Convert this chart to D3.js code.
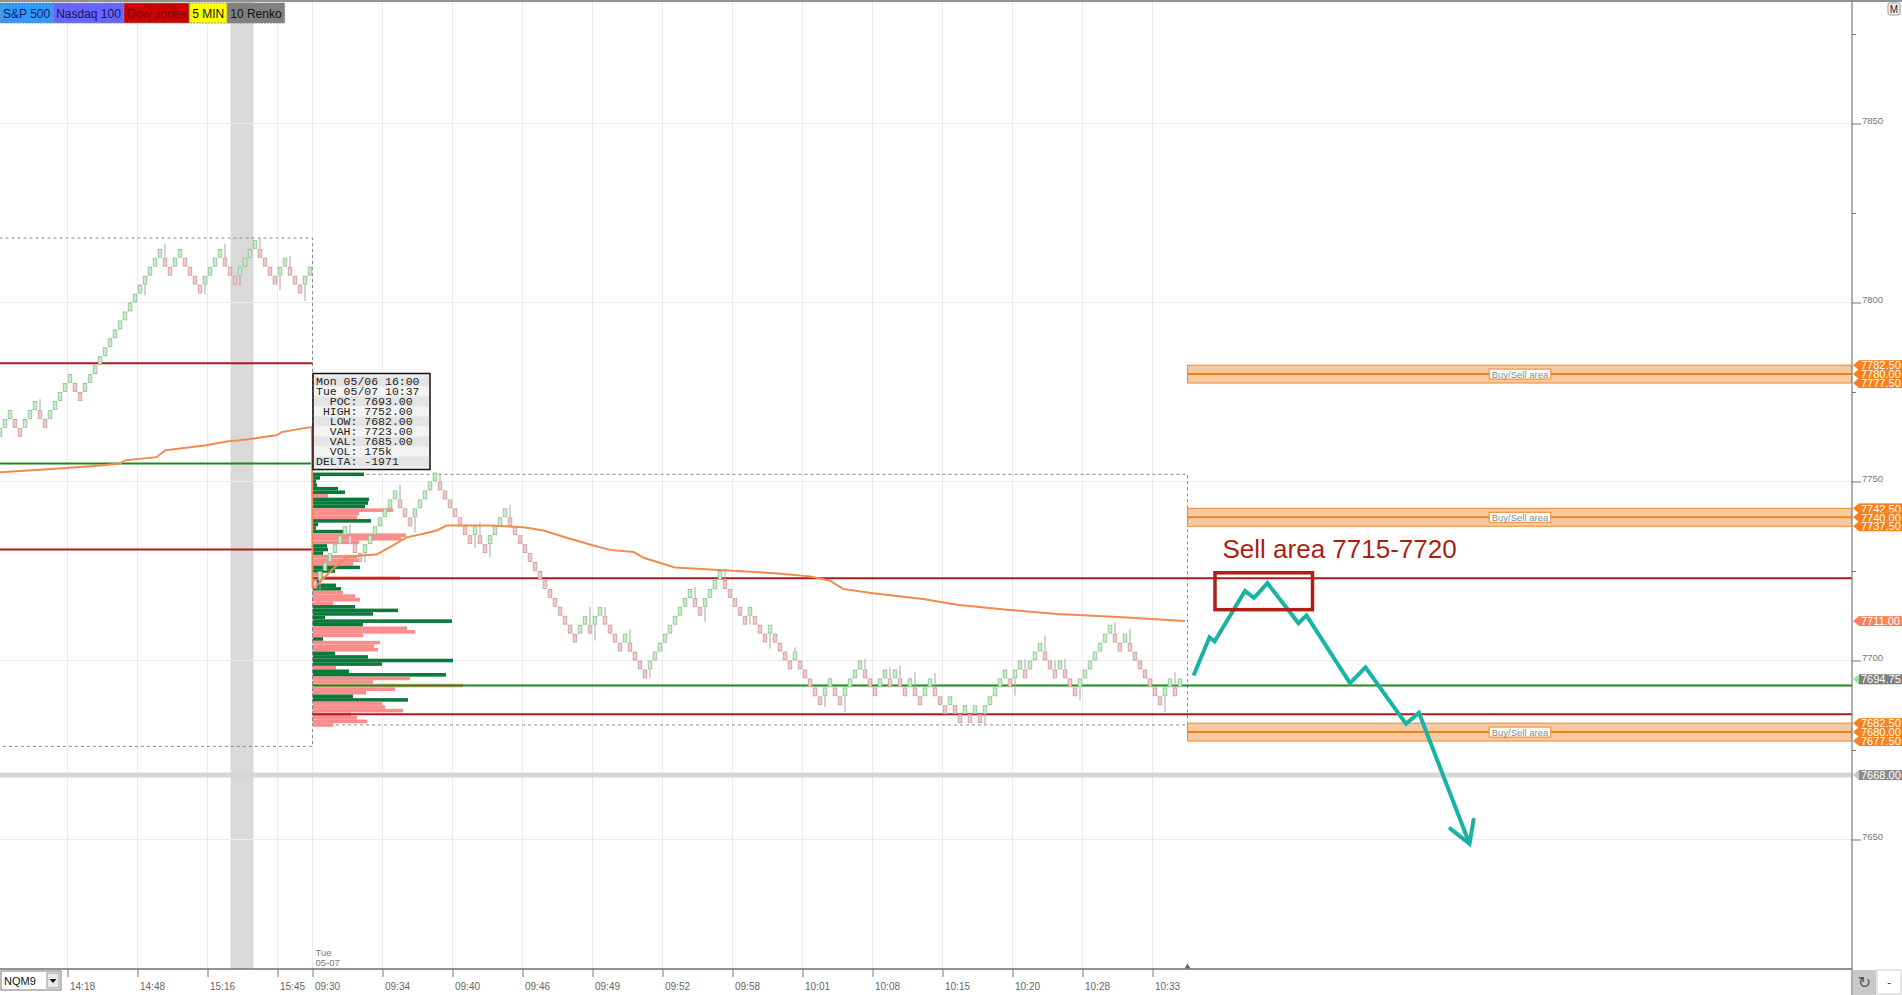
<!DOCTYPE html>
<html>
<head>
<meta charset="utf-8">
<title>NQM9 10 Renko</title>
<script src="https://cdn.jsdelivr.net/npm/d3@7/dist/d3.min.js"></script>
<style>
body{margin:0;background:#fff;overflow:hidden;}
svg{display:block;font-family:"Liberation Sans",Arial,sans-serif;}
</style>
</head>
<body>
<div class="container"></div>
<script>
// renko closes, one 10-tick (2.5 pt) brick per bar; bar 0 is the left edge of the view
var brickClose = [
	7765,7767.5,7770,7765,7762.5,7767.5,7770,7772.5,7767.5,7765,
	7770,7772.5,7775,7777.5,7780,7775,7772.5,7777.5,7780,7782.5,
	7785,7787.5,7790,7792.5,7795,7797.5,7800,7802.5,7805,7807.5,
	7810,7812.5,7815,7810,7807.5,7812.5,7815,7810,7807.5,7805,
	7802.5,7807.5,7810,7812.5,7815,7810,7807.5,7805,7810,7812.5,
	7815,7817.5,7812.5,7810,7807.5,7805,7810,7812.5,7807.5,7805,
	7802.5,7807.5,7810,
	// Tue 05-07 session
	7720,7725,7727.5,7730,7732.5,7735,7737.5,7732.5,7730,7727.5,
	7732.5,7735,7737.5,7740,7742.5,7745,7747.5,7742.5,7740,7737.5,
	7742.5,7745,7747.5,7750,7752.5,7747.5,7745,7742.5,7740,7737.5,
	7735,7732.5,7737.5,7732.5,7730,7735,7737.5,7740,7742.5,7737.5,
	7735,7732.5,7730,7727.5,7725,7722.5,7720,7717.5,7715,7712.5,
	7710,7707.5,7705,7710,7712.5,7707.5,7712.5,7715,7710,7707.5,
	7705,7702.5,7707.5,7702.5,7700,7697.5,7695,7700,7702.5,7705,
	7707.5,7710,7712.5,7715,7717.5,7720,7715,7712.5,7717.5,7720,
	7722.5,7725,7720,7717.5,7715,7712.5,7710,7715,7710,7707.5,
	7705,7710,7705,7702.5,7700,7697.5,7702.5,7697.5,7695,7692.5,
	7690,7687.5,7692.5,7695,7690,7687.5,7692.5,7695,7697.5,7700,
	7695,7692.5,7690,7695,7697.5,7692.5,7697.5,7692.5,7690,7695,
	7690,7687.5,7692.5,7695,7690,7687.5,7685,7690,7685,7682.5,
	7687.5,7682.5,7687.5,7682.5,7687.5,7690,7692.5,7695,7697.5,7692.5,
	7697.5,7700,7695,7700,7702.5,7705,7700,7697.5,7695,7700,
	7695,7692.5,7690,7695,7697.5,7700,7702.5,7705,7707.5,7710,
	7705,7702.5,7707.5,7702.5,7700,7697.5,7695,7692.5,7690,7687.5,
	7692.5,7695,7690,7695
];
var BRICK = 2.5;

// wicks: bar index and the price the wick reaches
var wickIdx = [8,29,33,41,45,48,52,56,58,61,64,70,73,80,83,88,95,96,98,102,118,119,121,126,130,139,141,145,150,154,159,165,169,173,178,180,183,187,197,203,205,209,211,213,216,223,226,233,235];
var wickPrice = [7773,7802,7816.4,7802.2,7816.5,7804.7,7818,7803.5,7813,7800.4,7719,7738,7727.5,7749,7735.8,7752.4,7731.5,7738.6,7728.9,7743.5,7715,7705.6,7715,7708.8,7695.2,7720.5,7710.7,7725.5,7710,7703.3,7703.7,7687,7685.6,7700.5,7698.1,7698.6,7696.7,7696.5,7682,7690.2,7700.5,7707,7700,7700.5,7688.8,7710.7,7708.8,7685.6,7696.7];

var timeTickIdx = [14,28,42,56,63,77,91,105,119,133,147,161,175,189,203,217,231];
var timeTickLabel = ['14:18','14:48','15:16','15:45','09:30','09:34','09:40','09:46','09:49','09:52','09:58','10:01','10:08','10:15','10:20','10:28','10:33'];
var priceMajor = [7650,7700,7750,7800,7850];
var priceMinor = [7675,7725,7775,7825,7875];

// VWAP, previous session then current session (bar index, price)
var vwapIdx = [0,8,13.3,20,24,25,31.3,33,36,41.3,45.3,48,52.7,55.3,56.3,60,62.4,
	62.5,63,64.3,66.5,69.5,72,75.3,78,81.3,84.7,87.3,89.3,93.3,98,104.7,108.7,114,118.7,122,126.7,128.7,135,142,155,162,166,168.6,174.6,184.6,191.4,201.4,211.4,224.6,237];
var vwapPrice = [7752.6,7753.3,7753.8,7754.5,7755,7755.9,7756.8,7758.7,7759.2,7760.1,7761.2,7761.5,7762.4,7762.9,7763.8,7764.7,7765.2,
	7720.5,7720.5,7722.3,7725.5,7728.9,7729.3,7729.6,7731.7,7734.4,7735.4,7736.3,7737.7,7737.7,7737.7,7737.2,7736.3,7734,7732.1,7730.9,7730.3,7728.7,7726,7725.4,7724.4,7723.5,7722.3,7720,7718.8,7717.2,7715.6,7714.2,7713,7712.1,7711];

// session volume profile, one row per point; b = buyers dominant, s = sellers
var profilePrice = [7752,7751,7750,7749,7748,7747,7746,7745,7744,7743,7742,7741,7740,7739,7738,7737,7736,7735,7734,7733,
	7732,7731,7730,7729,7728,7727,7726,7725,7724,7723,7722,7721,7720,7719,7718,7717,7716,7715,7714,7713,
	7712,7711,7710,7709,7708,7707,7706,7705,7704,7703,7702,7701,7700,7699,7698,7697,7696,7695,7694,7693,
	7692,7691,7690,7689,7688,7687,7686,7685,7684,7683,7682];
var profileVol = [2040,280,120,160,1000,1280,600,2240,2200,2080,3200,1840,1760,2320,200,120,1200,3720,3520,1840,
	560,600,400,1760,1880,1600,1880,880,400,3480,240,920,1120,1200,1680,1880,800,1680,3400,2400,
	480,5560,2000,3760,4080,2000,400,2680,2440,2600,880,2200,5600,2760,920,1440,5320,3880,2400,6000,
	3280,2120,1600,3800,2760,2880,3600,1520,1760,2160,800];
var profileSide = ['b','b','b','b','b','b','s','b','b','b','s','s','s','b','b','b','b','s','s','s',
	'b','b','b','s','s','s','b','b','s','s','b','b','b','s','s','s','s','b','b','b',
	'b','b','b','s','s','s','b','s','s','s','b','b','b','b','s','b','b','s','s','s',
	's','s','b','b','s','s','s','s','s','s','s'];

var prevLevelPrice = [7783,7755,7731];
var prevLevelKind = ['va','poc','va'];
var sessLevelPrice = [7723,7693,7685];
var sessLevelKind = ['va','poc','va'];
var prevRange = [7676,7818];
var sessRange = [7682,7752];
var sessStartIdx = 63, sessEndIdx = 238;
var highlightIdx = [46.6,51.2];
var grayLevel = 7668;

var zoneLow = [7777.5,7737.5,7677.5];
var zoneMid = [7780,7740,7680];
var zoneHigh = [7782.5,7742.5,7682.5];

var projIdx = [238.7,241.9,242.9,249,250.8,253.5,259.7,261.3,270,273.1,281.2,283.8,293.9];
var projPrice = [7695.8,7706.5,7705.3,7719.4,7717.5,7721.6,7710.4,7712.6,7693.7,7698.1,7682.3,7685.4,7648.8];
var sellBoxIdx = [243,262.5];
var sellBoxPrice = [7714.2,7724.5];
var sellText = 'Sell area 7715-7720';

var infoLines = ['Mon 05/06 16:00','Tue 05/07 10:37','  POC: 7693.00',' HIGH: 7752.00','  LOW: 7682.00','  VAH: 7723.00','  VAL: 7685.00','  VOL: 175k','DELTA: -1971'];
var tabLabels = ['S&P 500','Nasdaq 100','Dow Jones','5 MIN','10 Renko'];
var tagPrice = [7782.5,7780,7777.5,7742.5,7740,7737.5,7711,7694.75,7682.5,7680,7677.5,7668];
var tagKind = ['zone','zone','zone','zone','zone','zone','vwap','last','zone','zone','zone','line'];

// ---- layout / styles ----
const WIDTH = 1902;
const HEIGHT = 995;
const PLOT_RIGHT = 1852;
const PLOT_TOP = 2;
const PLOT_BOTTOM = 969;

var tabFill = ['#3399ff','#6666ff','#cc0000','#ffff00','#808080'];
var tabText = ['#0d1f5c','#14145e','#7a0000','#111','#111'];
var tagFill = {zone:'#f5821f', vwap:'#f4845c', last:'#7d7d7d', line:'#8c8c8c'};
var tagArrow = {zone:'#f5821f', vwap:'#f4845c', last:'#9be39b', line:'#c4c4c4'};

var svg = d3.select('.container').append('svg')
	.attr('width',WIDTH)
	.attr('height',HEIGHT);

// xScale(i) = left edge of bar i
var xScale = d3.scaleLinear().domain([0,1]).range([-2.5,2.5]);
var cx = function(i){ return xScale(i + 0.5); };
var yScale = d3.scaleLinear().domain([7650,7850]).range([839.5,123.5]);
var volScale = d3.scaleLinear().domain([0,6000]).range([0,150]);

svg.append('rect').attr('width',WIDTH).attr('height',HEIGHT).attr('fill','#fff');

svg.append('defs').append('clipPath').attr('id','plotclip').append('rect')
	.attr('x',0).attr('y',PLOT_TOP).attr('width',PLOT_RIGHT).attr('height',PLOT_BOTTOM-PLOT_TOP);

var marker = svg.select('defs').append('marker')
	.attr('id','arrowhead')
	.attr('markerUnits','userSpaceOnUse')
	.attr('viewBox','-26 -16 30 32')
	.attr('markerWidth',30).attr('markerHeight',32)
	.attr('refX',0).attr('refY',0)
	.attr('orient','auto');
marker.append('path')
	.attr('d','M-21,-12.5L0,0L-21,12.5')
	.attr('fill','none').attr('stroke','#19b3a6').attr('stroke-width',4).attr('stroke-linecap','round');

var plot = svg.append('g').attr('clip-path','url(#plotclip)');

// highlighted column
plot.append('rect')
	.attr('x',xScale(highlightIdx[0]))
	.attr('y',PLOT_TOP)
	.attr('width',xScale(highlightIdx[1]) - xScale(highlightIdx[0]))
	.attr('height',PLOT_BOTTOM-PLOT_TOP)
	.attr('fill','#d9d9d9');

// grid
plot.selectAll('.hgrid').data(priceMajor).enter().append('line')
	.attr('x1',0).attr('x2',PLOT_RIGHT)
	.attr('y1',function(d){return yScale(d);}).attr('y2',function(d){return yScale(d);})
	.attr('stroke','#ececec');
plot.selectAll('.vgrid').data(timeTickIdx).enter().append('line')
	.attr('x1',function(d){return xScale(d);}).attr('x2',function(d){return xScale(d);})
	.attr('y1',PLOT_TOP).attr('y2',PLOT_BOTTOM)
	.attr('stroke','#ececec');

// session range boxes
var drawBox = function(i0,i1,range){
	plot.append('rect')
		.attr('x',xScale(i0)).attr('y',yScale(range[1]))
		.attr('width',xScale(i1)-xScale(i0))
		.attr('height',yScale(range[0])-yScale(range[1]))
		.attr('fill','none').attr('stroke','#8a8a8a').attr('stroke-dasharray','3,3');
};
drawBox(-2, sessStartIdx, prevRange);
drawBox(sessStartIdx, sessEndIdx, sessRange);

// buy/sell zones
var zones = plot.selectAll('.zone').data(zoneMid).enter().append('g');
zones.append('rect')
	.attr('x',xScale(sessEndIdx)).attr('width',PLOT_RIGHT - xScale(sessEndIdx))
	.attr('y',function(d,i){return yScale(zoneHigh[i]);})
	.attr('height',function(d,i){return yScale(zoneLow[i]) - yScale(zoneHigh[i]);})
	.attr('fill','#f7c9a1').attr('stroke','#f0882a').attr('stroke-width',1);
zones.append('line')
	.attr('x1',xScale(sessEndIdx)).attr('x2',PLOT_RIGHT)
	.attr('y1',function(d){return yScale(d);}).attr('y2',function(d){return yScale(d);})
	.attr('stroke','#f0821a').attr('stroke-width',2);
zones.each(function(d){
	var g = d3.select(this);
	var t = g.append('text').attr('x',cx(304)).attr('y',yScale(d)+3.5)
		.attr('text-anchor','middle').attr('font-size','9.5px').attr('fill','#8a8a8a')
		.text('Buy/Sell area');
	var w = t.node().getComputedTextLength() + 5;
	g.insert('rect','text:last-child')
		.attr('x',cx(304)-w/2).attr('y',yScale(d)-5).attr('width',w).attr('height',10)
		.attr('fill','#fff').attr('stroke','#f0882a').attr('stroke-width',1);
});

// grey reference level
plot.append('line')
	.attr('x1',0).attr('x2',PLOT_RIGHT)
	.attr('y1',yScale(grayLevel)).attr('y2',yScale(grayLevel))
	.attr('stroke','#d6d6d6').attr('stroke-width',5);

// volume profile
var rowH = yScale(7700) - yScale(7701);
plot.selectAll('.prof').data(profilePrice).enter().append('rect')
	.attr('x',xScale(sessStartIdx)+0.5)
	.attr('y',function(d){return yScale(d) - rowH/2;})
	.attr('width',function(d,i){return volScale(profileVol[i]);})
	.attr('height',rowH)
	.attr('fill',function(d,i){
		if(d === sessLevelPrice[1]) return '#f2a07c';
		return profileSide[i] === 'b' ? '#0a7a3c' : '#fa8c8c';
	});

// value area / poc lines
var levelColor = function(k){ return k === 'poc' ? '#1c8a1c' : '#b01a1a'; };
plot.selectAll('.prevlvl').data(prevLevelPrice).enter().append('line')
	.attr('x1',xScale(-2)).attr('x2',xScale(sessStartIdx))
	.attr('y1',function(d){return yScale(d);}).attr('y2',function(d){return yScale(d);})
	.attr('stroke',function(d,i){return levelColor(prevLevelKind[i]);}).attr('stroke-width',2);
plot.selectAll('.sesslvl').data(sessLevelPrice).enter().append('line')
	.attr('x1',xScale(sessStartIdx)).attr('x2',PLOT_RIGHT)
	.attr('y1',function(d){return yScale(d);}).attr('y2',function(d){return yScale(d);})
	.attr('stroke',function(d,i){return levelColor(sessLevelKind[i]);}).attr('stroke-width',2);

// renko bricks
var bricks = brickClose.map(function(c,i){
	var up = i === 0 ? true : c > brickClose[i-1];
	return {i:i, close:c, open: up ? c - BRICK : c + BRICK, up:up};
});
var brickById = {};
bricks.forEach(function(b){ brickById[b.i] = b; });

plot.selectAll('.wick').data(wickIdx).enter().append('line')
	.attr('x1',function(d){return cx(d);}).attr('x2',function(d){return cx(d);})
	.attr('y1',function(d,k){
		var b = brickById[d];
		var top = Math.max(b.open,b.close), bot = Math.min(b.open,b.close);
		return yScale(wickPrice[k] > top ? top : bot);
	})
	.attr('y2',function(d,k){return yScale(wickPrice[k]);})
	.attr('stroke','#a6a6a6').attr('stroke-width',1);

plot.selectAll('.brick').data(bricks).enter().append('rect')
	.attr('x',function(d){return cx(d.i) - 1.8;})
	.attr('width',3.6)
	.attr('y',function(d){return yScale(Math.max(d.open,d.close)) + 0.5;})
	.attr('height',function(d){return yScale(Math.min(d.open,d.close)) - yScale(Math.max(d.open,d.close)) - 1;})
	.attr('fill',function(d){return d.up ? '#c6eec6' : '#f2c8c8';})
	.attr('stroke',function(d){return d.up ? '#8dbf8d' : '#c69c9c';})
	.attr('stroke-width',0.8);

// vwap
var vwapLine = d3.line()
	.x(function(d){return cx(d);})
	.y(function(d,k){return yScale(vwapPrice[k]);});
plot.append('path')
	.attr('d',vwapLine(vwapIdx))
	.attr('fill','none').attr('stroke','#f08a4e').attr('stroke-width',2);

// projection
var projLine = d3.line()
	.x(function(d){return cx(d);})
	.y(function(d,k){return yScale(projPrice[k]);});
plot.append('path')
	.attr('d',projLine(projIdx))
	.attr('fill','none').attr('stroke','#19b3a6').attr('stroke-width',4)
	.attr('stroke-linejoin','miter')
	.attr('marker-end','url(#arrowhead)');

plot.append('rect')
	.attr('x',cx(sellBoxIdx[0])).attr('y',yScale(sellBoxPrice[1]))
	.attr('width',cx(sellBoxIdx[1]) - cx(sellBoxIdx[0]))
	.attr('height',yScale(sellBoxPrice[0]) - yScale(sellBoxPrice[1]))
	.attr('fill','none').attr('stroke','#b01f0f').attr('stroke-width',3.5);
plot.append('text')
	.attr('x',cx(244.5)).attr('y',yScale(7728.6))
	.attr('font-size','26px').attr('fill','#ab1f10')
	.text(sellText);

// info box
var info = svg.append('g').attr('transform','translate('+(xScale(sessStartIdx)+0.5)+',373.5)');
info.append('rect').attr('width',117).attr('height',96)
	.attr('fill','#f2f2f2').attr('stroke','#111').attr('stroke-width',1.5);
info.selectAll('.row').data(infoLines).enter().append('rect')
	.attr('x',1).attr('width',115)
	.attr('y',function(d,i){return 3 + i*10;}).attr('height',10)
	.attr('fill',function(d,i){return i % 2 ? '#f3f3f3' : '#e4e4e4';});
info.selectAll('.txt').data(infoLines).enter().append('text')
	.attr('x',3).attr('y',function(d,i){return 11.6 + i*10;})
	.attr('font-family','"Liberation Mono","Courier New",monospace')
	.attr('font-size','11.5px').attr('fill','#222')
	.attr('xml:space','preserve').style('white-space','pre')
	.text(function(d){return d;});

// frame lines
svg.append('line').attr('x1',0).attr('x2',WIDTH).attr('y1',1).attr('y2',1).attr('stroke','#6e6e6e').attr('stroke-width',1.5);
svg.append('line').attr('x1',0).attr('x2',PLOT_RIGHT).attr('y1',PLOT_BOTTOM).attr('y2',PLOT_BOTTOM).attr('stroke','#6e6e6e').attr('stroke-width',1.5);
svg.append('line').attr('x1',PLOT_RIGHT).attr('x2',PLOT_RIGHT).attr('y1',1).attr('y2',HEIGHT).attr('stroke','#7a7a7a').attr('stroke-width',1.2);

// bottom time axis
var xAxis = d3.axisBottom(xScale)
	.tickValues(timeTickIdx)
	.tickFormat(function(d,i){return timeTickLabel[i];})
	.tickSize(8);
var gx = svg.append('g').attr('transform','translate(0,'+PLOT_BOTTOM+')').call(xAxis);
gx.select('.domain').remove();
gx.selectAll('line').attr('stroke','#777');
gx.selectAll('text')
	.attr('text-anchor','start').attr('x',2).attr('y',14)
	.attr('font-family','"Liberation Sans Narrow","Liberation Sans",sans-serif')
	.attr('font-size','10px').attr('fill','#666');
svg.append('text').attr('x',xScale(sessStartIdx)+3).attr('y',956).attr('font-size','9.5px').attr('fill','#777').text('Tue');
svg.append('text').attr('x',xScale(sessStartIdx)+3).attr('y',966).attr('font-size','9.5px').attr('fill','#777').text('05-07');
svg.append('path')
	.attr('d','M'+(xScale(sessEndIdx)-3)+','+(PLOT_BOTTOM-0.5)+'l3,-5l3,5z')
	.attr('fill','#666');

// right price axis
var yAxis = d3.axisRight(yScale).tickValues(priceMajor).tickSize(9).tickPadding(1).tickFormat(d3.format('d'));
var gy = svg.append('g').attr('transform','translate('+PLOT_RIGHT+',0)').call(yAxis);
gy.select('.domain').remove();
gy.selectAll('line').attr('stroke','#777');
gy.selectAll('text').attr('dy','0').attr('font-size','9.5px').attr('fill','#777')
	.attr('font-family','"Liberation Sans Narrow","Liberation Sans",sans-serif');
var yMinor = d3.axisRight(yScale).tickValues(priceMinor).tickSize(4).tickFormat('');
var gy2 = svg.append('g').attr('transform','translate('+PLOT_RIGHT+',0)').call(yMinor);
gy2.select('.domain').remove();
gy2.selectAll('line').attr('stroke','#777');

// price tags
var tags = svg.selectAll('.tag').data(tagPrice).enter().append('g')
	.attr('transform',function(d){return 'translate('+PLOT_RIGHT+','+yScale(d)+')';});
tags.append('path')
	.attr('d','M1,0L7,-5L7,5Z')
	.attr('fill',function(d,i){return tagArrow[tagKind[i]];});
tags.append('rect')
	.attr('x',7).attr('y',-5).attr('width',WIDTH-PLOT_RIGHT-7).attr('height',10)
	.attr('fill',function(d,i){return tagFill[tagKind[i]];});
tags.append('text')
	.attr('x',9).attr('y',4.2)
	.attr('font-size','11px').attr('fill','#fff')
	.text(function(d){return d3.format('.2f')(d);});

// symbol tabs
var tabG = svg.append('g').attr('transform','translate(0,3)');
var tx = 0;
tabLabels.forEach(function(lbl,i){
	var g = tabG.append('g');
	var t = g.append('text').attr('y',15).attr('font-size','12px').attr('fill',tabText[i]).text(lbl);
	var w = t.node().getComputedTextLength() + 6;
	g.insert('rect','text')
		.attr('x',tx).attr('y',0).attr('width',w).attr('height',20)
		.attr('fill',tabFill[i]).attr('stroke','#8c8c8c').attr('stroke-width',1)
		.attr('stroke-dasharray','2,1');
	t.attr('x',tx+3);
	tx += w;
});

// corner widgets
svg.append('rect').attr('x',1888).attr('y',3).attr('width',12).attr('height',12).attr('rx',2)
	.attr('fill','#f2f2f2').attr('stroke','#999');
svg.append('text').attr('x',1894).attr('y',13).attr('text-anchor','middle')
	.attr('font-size','10px').attr('fill','#222').text('M');

var sym = svg.append('g').attr('transform','translate(1,971)');
sym.append('rect').attr('width',60).attr('height',19).attr('fill','#fff').attr('stroke','#777');
sym.append('text').attr('x',3).attr('y',14).attr('font-size','11px').attr('fill','#111').text('NQM9');
sym.append('rect').attr('x',46).attr('y',2).attr('width',12).attr('height',15).attr('fill','#e9e9e9').attr('stroke','#999');
sym.append('path').attr('d','M48.5,8h7l-3.5,4z').attr('fill','#111');

svg.append('rect').attr('x',PLOT_RIGHT+1).attr('y',PLOT_BOTTOM+1).attr('width',23).attr('height',HEIGHT-PLOT_BOTTOM-1)
	.attr('fill','#c9c9c9');
svg.append('text').attr('x',PLOT_RIGHT+12.5).attr('y',988).attr('text-anchor','middle')
	.attr('font-family','"DejaVu Sans",sans-serif').attr('font-size','16px').attr('fill','#555').text('\u21BB');
svg.append('rect').attr('x',PLOT_RIGHT+25).attr('y',PLOT_BOTTOM+1).attr('width',WIDTH-PLOT_RIGHT-26).attr('height',HEIGHT-PLOT_BOTTOM-2)
	.attr('fill','#fff').attr('stroke','#ccc');
svg.append('text').attr('x',1889).attr('y',986).attr('text-anchor','middle').attr('font-size','11px').attr('fill','#333').text('-');
</script>
</body>
</html>
